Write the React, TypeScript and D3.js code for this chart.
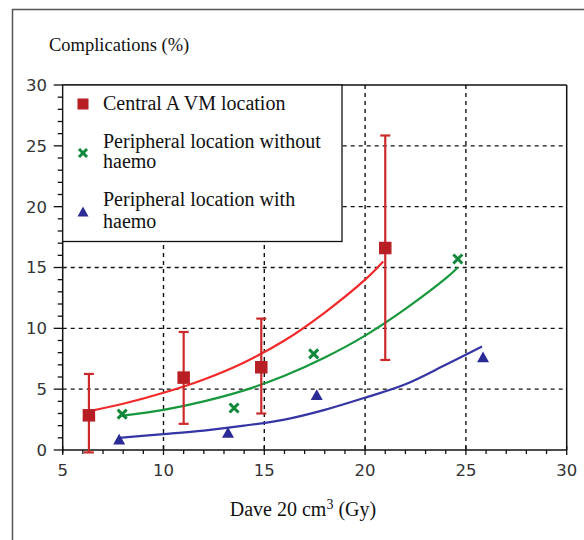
import React, { useEffect, useRef } from "react";
import * as d3 from "d3";

const W = 584;
const H = 540;

const xTicks = [5, 10, 15, 20, 25, 30];
const yTicks = [0, 5, 10, 15, 20, 25, 30];

const seriesNames = [
  "Central A VM location",
  "Peripheral location without haemo",
  "Peripheral location with haemo",
];

// Central AVM location: points with error bars
const centralX = [6.3, 11.0, 14.85, 21.0];
const centralY = [2.85, 5.95, 6.8, 16.6];
const centralLow = [-0.2, 2.15, 3.0, 7.4];
const centralHigh = [6.25, 9.7, 10.8, 25.85];

// Peripheral without haemorrhage
const periNoX = [7.95, 13.5, 17.45, 24.6];
const periNoY = [2.95, 3.45, 7.9, 15.7];

// Peripheral with haemorrhage
const periHaemX = [7.8, 13.2, 17.6, 25.85];
const periHaemY = [0.85, 1.4, 4.5, 7.6];

// Fitted curves
const centralFitX = [6.3, 8, 10, 12, 14, 16, 18, 20, 20.9];
const centralFitY = [3.2, 3.8, 4.7, 5.8, 7.2, 9.0, 11.3, 14.0, 15.5];
const periNoFitX = [7.9, 10, 12, 14, 16, 18, 20, 22, 24, 24.6];
const periNoFitY = [2.8, 3.3, 4.0, 4.9, 6.1, 7.6, 9.4, 11.6, 14.1, 15.0];
const periHaemFitX = [7.8, 10, 12, 14, 16, 18, 20, 22, 24, 25.8];
const periHaemFitY = [1.0, 1.3, 1.6, 2.0, 2.5, 3.3, 4.3, 5.4, 7.0, 8.5];

const RED_MARK = "#b71f25";
const RED_LINE = "#f22a2a";
const RED_ERR = "#cc2a2a";
const GREEN_MARK = "#12893a";
const GREEN_LINE = "#17983c";
const BLUE_MARK = "#2b2b95";
const BLUE_LINE = "#3535a5";

export default function App() {
  const ref = useRef<SVGSVGElement>(null);

  useEffect(() => {
    const svg = d3.select(ref.current);
    svg.selectAll("*").remove();

    const x = d3.scaleLinear().domain([5, 30]).range([62.7, 566.7]);
    const y = d3.scaleLinear().domain([0, 30]).range([450, 85]);

    const serif = "'Liberation Serif', 'DejaVu Serif', serif";
    const sans = "'DejaVu Sans', sans-serif";

    // outer frame
    svg.append("line").attr("x1", 12).attr("x2", W).attr("y1", 9.5).attr("y2", 9.5)
      .attr("stroke", "#555").attr("stroke-width", 1.5);
    svg.append("line").attr("x1", 12.5).attr("x2", 12.5).attr("y1", 9).attr("y2", H)
      .attr("stroke", "#555").attr("stroke-width", 1.5);

    // grid
    const g = svg.append("g");
    xTicks.filter((t) => t > 5 && t < 30).forEach((t) => {
      g.append("line").attr("x1", x(t)).attr("x2", x(t)).attr("y1", y(30)).attr("y2", y(0))
        .attr("stroke", "#111").attr("stroke-width", 1.4).attr("stroke-dasharray", "4,4");
    });
    yTicks.filter((t) => t > 0 && t < 30).forEach((t) => {
      g.append("line").attr("x1", x(5)).attr("x2", x(30)).attr("y1", y(t)).attr("y2", y(t))
        .attr("stroke", "#111").attr("stroke-width", 1.4).attr("stroke-dasharray", "4,4");
    });

    // plot frame top & right
    svg.append("line").attr("x1", x(5)).attr("x2", x(30)).attr("y1", y(30)).attr("y2", y(30))
      .attr("stroke", "#111").attr("stroke-width", 1.5);
    svg.append("line").attr("x1", x(30)).attr("x2", x(30)).attr("y1", y(30)).attr("y2", y(0))
      .attr("stroke", "#111").attr("stroke-width", 1.5);

    // axes
    svg.append("line").attr("x1", x(5)).attr("x2", x(5)).attr("y1", y(30)).attr("y2", y(0) + 3)
      .attr("stroke", "#111").attr("stroke-width", 1.5);
    svg.append("line").attr("x1", x(5)).attr("x2", x(30)).attr("y1", y(0)).attr("y2", y(0))
      .attr("stroke", "#111").attr("stroke-width", 1.5);

    const yMinor = d3.range(0, 31, 1);
    yMinor.forEach((t) => {
      const major = t % 5 === 0;
      svg.append("line").attr("x1", x(5) - (major ? 9 : 5)).attr("x2", x(5))
        .attr("y1", y(t)).attr("y2", y(t)).attr("stroke", "#111").attr("stroke-width", 1.3);
    });
    const xMinor = d3.range(5, 31, 1);
    xMinor.forEach((t) => {
      const major = t % 5 === 0;
      svg.append("line").attr("x1", x(t)).attr("x2", x(t))
        .attr("y1", y(0) - (major ? 4 : 0)).attr("y2", y(0) + (major ? 5 : 4))
        .attr("stroke", "#111").attr("stroke-width", 1.3);
    });

    yTicks.forEach((t) => {
      svg.append("text").attr("x", 47).attr("y", y(t)).attr("dy", "0.36em")
        .attr("text-anchor", "end").attr("font-family", sans).attr("font-size", 16.5)
        .attr("fill", "#333").text(String(t));
    });
    xTicks.forEach((t) => {
      svg.append("text").attr("x", x(t)).attr("y", 476)
        .attr("text-anchor", "middle").attr("font-family", sans).attr("font-size", 16.5)
        .attr("fill", "#333").text(String(t));
    });

    // titles
    svg.append("text").attr("x", 49).attr("y", 51).attr("font-family", serif)
      .attr("font-size", 18.5).attr("fill", "#111").text("Complications (%)");
    const xt = svg.append("text").attr("x", 303).attr("y", 516).attr("text-anchor", "middle")
      .attr("font-family", serif).attr("font-size", 20).attr("fill", "#111");
    xt.append("tspan").text("Dave 20 cm");
    xt.append("tspan").attr("dy", -7).attr("font-size", 14).text("3");
    xt.append("tspan").attr("dy", 7).text(" (Gy)");

    // curves
    const line = d3.line<[number, number]>().x((d) => x(d[0])).y((d) => y(d[1]))
      .curve(d3.curveCatmullRom.alpha(0.5));
    const fits: [number[], number[], string][] = [
      [centralFitX, centralFitY, RED_LINE],
      [periNoFitX, periNoFitY, GREEN_LINE],
      [periHaemFitX, periHaemFitY, BLUE_LINE],
    ];
    fits.forEach(([xs, ys, c]) => {
      const pts = xs.map((v, i) => [v, ys[i]] as [number, number]);
      svg.append("path").attr("d", line(pts)).attr("fill", "none")
        .attr("stroke", c).attr("stroke-width", 2.2);
    });

    // error bars
    centralX.forEach((v, i) => {
      const cx = x(v);
      svg.append("line").attr("x1", cx).attr("x2", cx).attr("y1", y(centralLow[i])).attr("y2", y(centralHigh[i]))
        .attr("stroke", RED_ERR).attr("stroke-width", 2.2);
      [centralLow[i], centralHigh[i]].forEach((e) => {
        svg.append("line").attr("x1", cx - 5).attr("x2", cx + 5).attr("y1", y(e)).attr("y2", y(e))
          .attr("stroke", RED_ERR).attr("stroke-width", 2.2);
      });
    });

    const square = (sel: any, cx: number, cy: number, s: number) =>
      sel.append("rect").attr("x", cx - s / 2).attr("y", cy - s / 2).attr("width", s).attr("height", s)
        .attr("fill", RED_MARK);
    const cross = (sel: any, cx: number, cy: number, s: number) => {
      sel.append("path").attr("d", `M${cx - s},${cy - s}L${cx + s},${cy + s}M${cx - s},${cy + s}L${cx + s},${cy - s}`)
        .attr("stroke", GREEN_MARK).attr("stroke-width", 3).attr("fill", "none");
    };
    const tri = (sel: any, cx: number, cy: number, s: number) =>
      sel.append("path").attr("d", `M${cx},${cy - s}L${cx + s},${cy + s * 0.8}L${cx - s},${cy + s * 0.8}Z`)
        .attr("fill", BLUE_MARK);

    centralX.forEach((v, i) => square(svg, x(v), y(centralY[i]), 12.5));
    periNoX.forEach((v, i) => cross(svg, x(v), y(periNoY[i]), 4.5));
    periHaemX.forEach((v, i) => tri(svg, x(v), y(periHaemY[i]), 6));

    // legend
    const lg = svg.append("g");
    lg.append("rect").attr("x", x(5)).attr("y", y(30)).attr("width", 342 - x(5)).attr("height", 241.5 - y(30))
      .attr("fill", "#fff").attr("stroke", "#111").attr("stroke-width", 1.3);
    square(lg, 83, 104, 11);
    cross(lg, 83, 153, 4);
    tri(lg, 83, 212, 5.5);
    const lt = (txt: string, yy: number) =>
      lg.append("text").attr("x", 103).attr("y", yy).attr("font-family", serif).attr("font-size", 20)
        .attr("fill", "#111").text(txt);
    lt(seriesNames[0], 110);
    lt("Peripheral location without", 148);
    lt("haemo", 168);
    lt("Peripheral location with", 206);
    lt("haemo", 228);
  }, []);

  return (
    <svg ref={ref} width={W} height={H}
      style={{ position: "absolute", left: 0, top: 0, background: "#fff" }} />
  );
}
